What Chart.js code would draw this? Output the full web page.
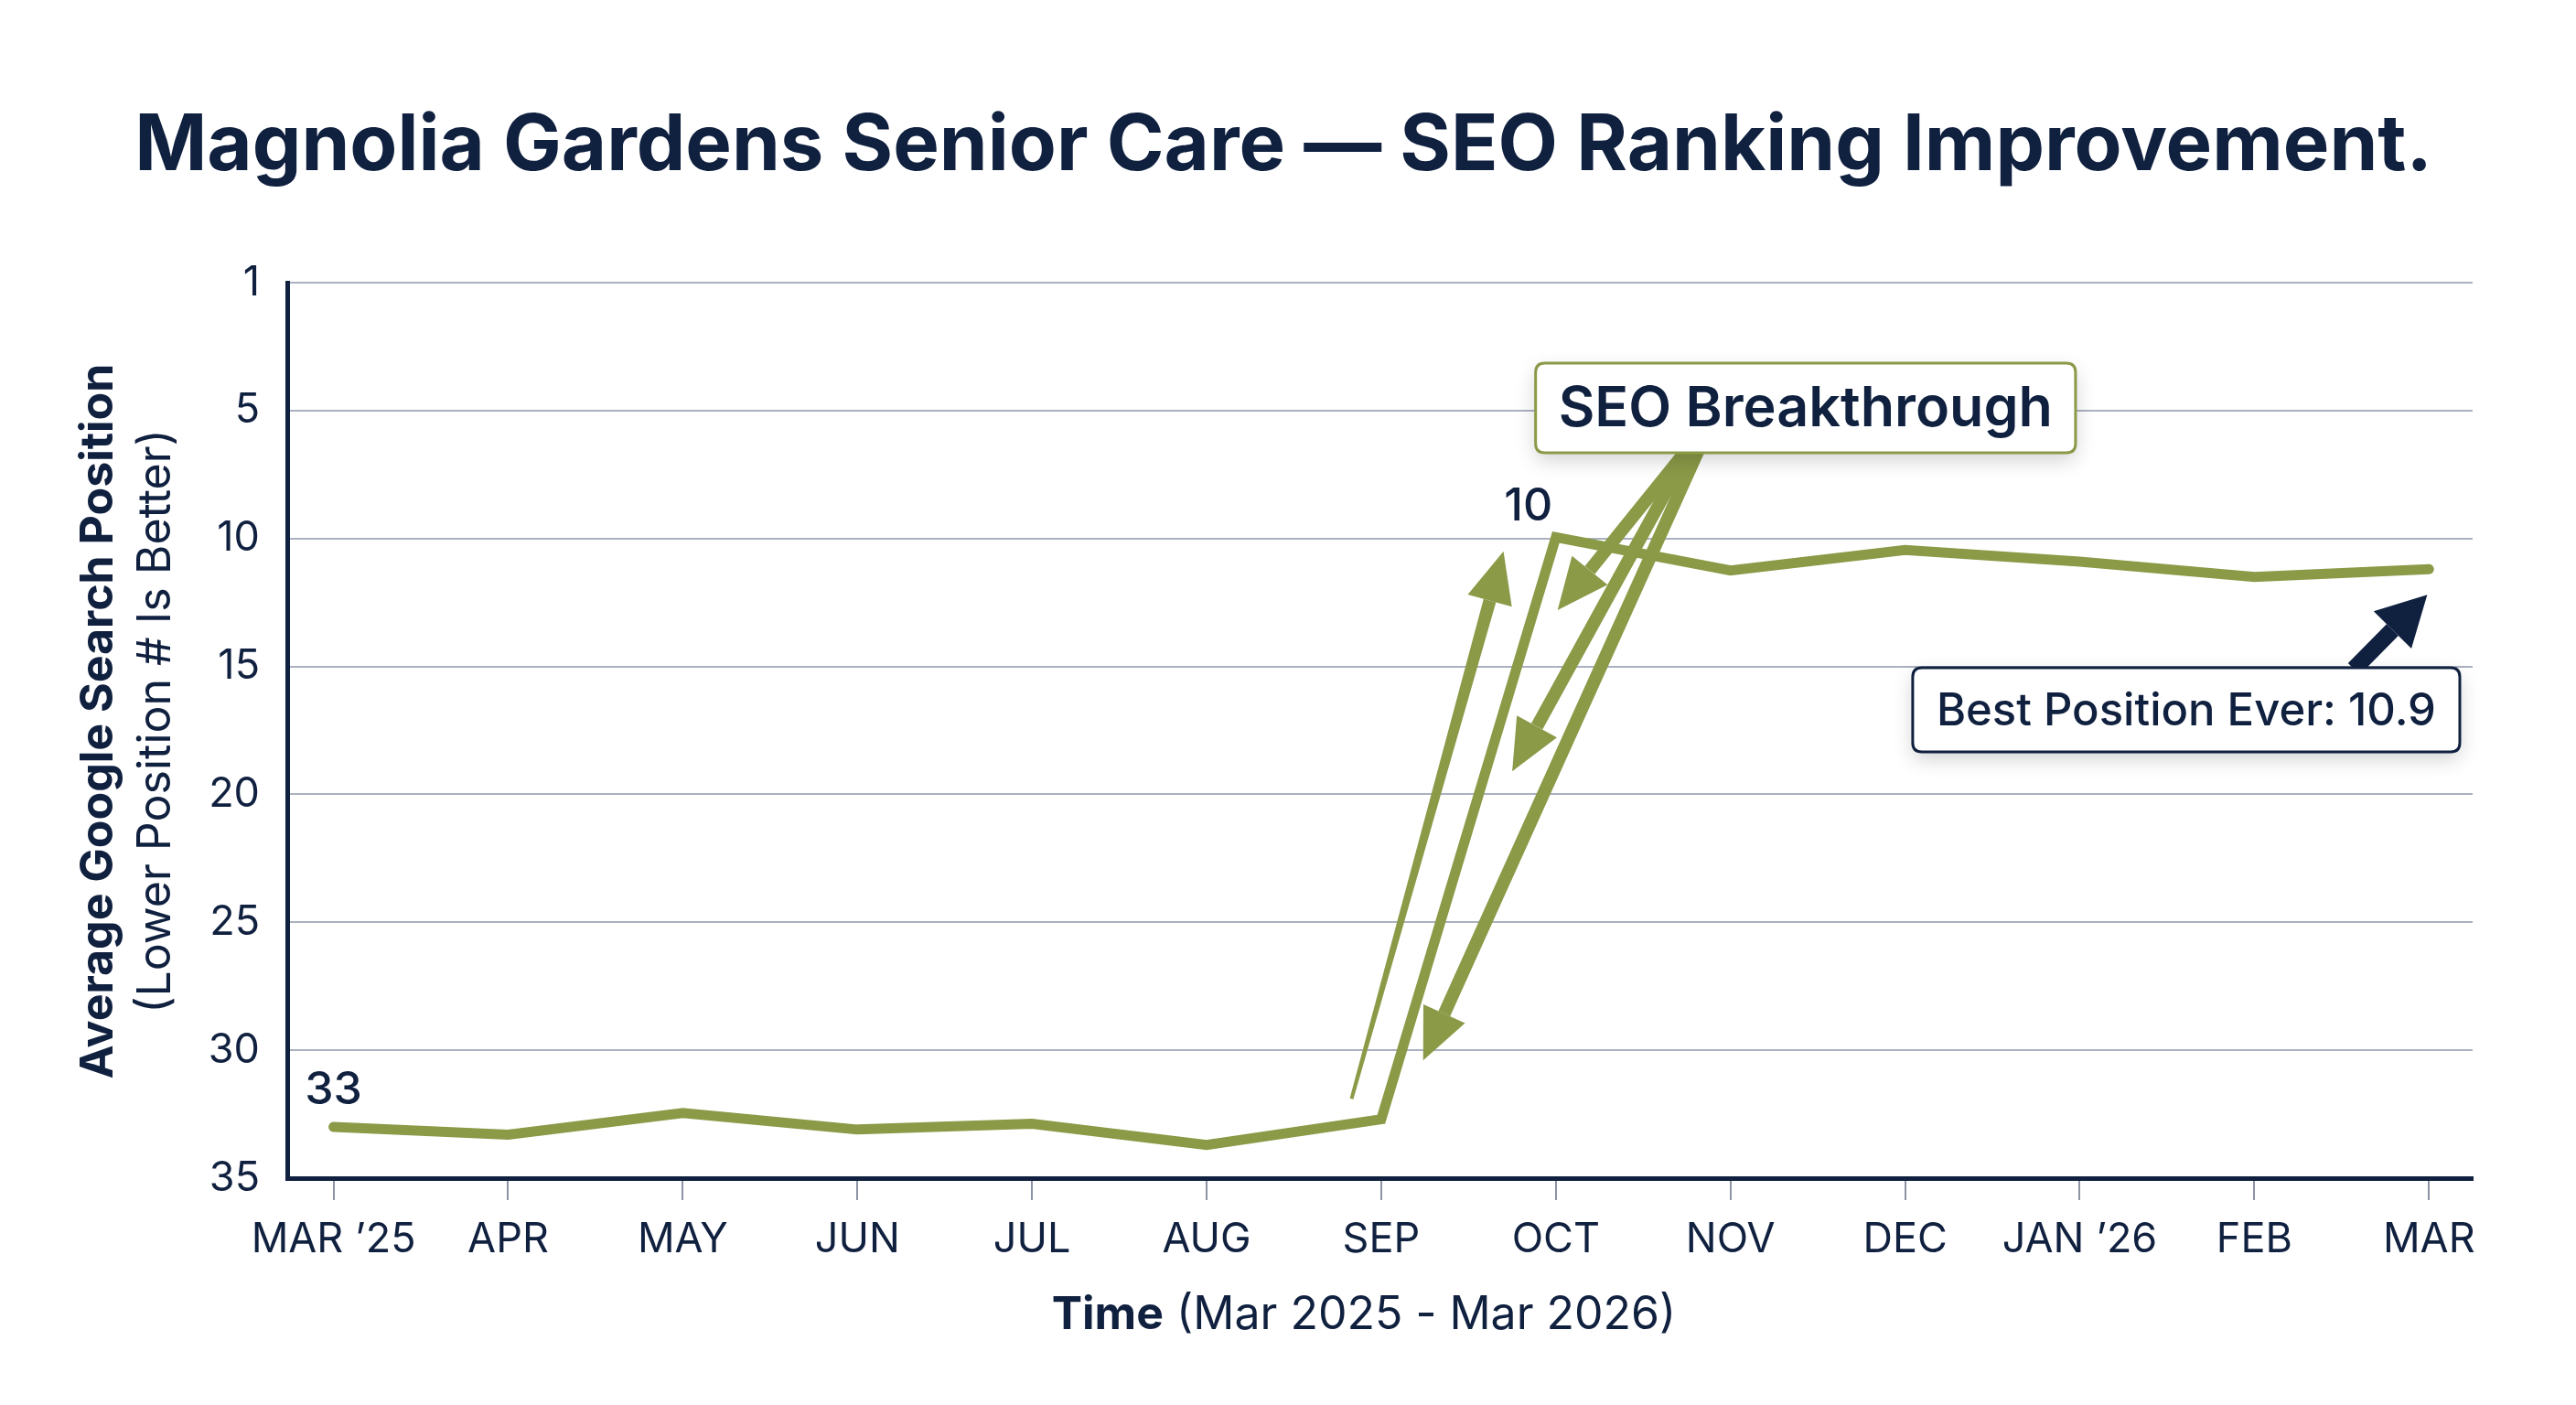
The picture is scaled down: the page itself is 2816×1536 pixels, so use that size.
<!DOCTYPE html>
<html>
<head>
<meta charset="utf-8">
<title>SEO Ranking Improvement</title>
<script src="https://cdn.jsdelivr.net/npm/chart.js@4.4.1/dist/chart.umd.min.js"></script>
<style>
  html, body { margin: 0; padding: 0; background: #ffffff; }
  #wrap { width: 2816px; height: 1536px; position: relative; }
</style>
</head>
<body>
<div id="wrap"><canvas id="seoChart"></canvas></div>
<script>
// Datos del grafico
const months = ["MAR \u201925", "APR", "MAY", "JUN", "JUL", "AUG", "SEP", "OCT", "NOV", "DEC", "JAN \u201926", "FEB", "MAR"];
const positions = [33.0, 33.3, 32.45, 33.1, 32.87, 33.7, 32.7, 9.95, 11.25, 10.45, 10.9, 11.5, 11.2];
const yTickValues = [0, 5, 10, 15, 20, 25, 30, 35];
const yTickLabels = ["1", "5", "10", "15", "20", "25", "30", "35"];

const titleText = "Magnolia Gardens Senior Care \u2014 SEO Ranking Improvement.";
const yTitleBold = "Average Google Search Position";
const yTitleNormal = "(Lower Position # Is Better)";
const xTitleBold = "Time";
const xTitleNormal = " (Mar 2025 - Mar 2026)";
const seoLabel = "SEO Breakthrough";
const bestLabel = "Best Position Ever: 10.9";

const NAVY = "#10203f";
const OLIVE = "#8a9a47";
const GRID = "#aab1c0";
const FONT = "Inter, 'Noto Sans', sans-serif";

// Anotaciones en unidades de datos (indice de mes, posicion)
const seoBox = { x: 8.43, y: 4.9 };
const bestBox = { x: 10.61, y: 16.7 };
const oliveArrows = [
  { from: [5.83, 31.9], to: [6.70, 10.5], w1: 4, w2: 14 },
  { from: [7.79, 6.2], to: [7.01, 12.8], w1: 14, w2: 14 },
  { from: [7.79, 6.2], to: [6.75, 19.1], w1: 14, w2: 14 },
  { from: [7.84, 6.2], to: [6.24, 30.4], w1: 14, w2: 14 },
];
const navyArrow = { from: [11.57, 15.1], to: [11.99, 12.2] };

// Dibuja una flecha con cuerpo (posiblemente conico) y punta triangular
function drawArrow(ctx, x1, y1, x2, y2, w1, w2, headLen, headW, color) {
  const dx = x2 - x1, dy = y2 - y1;
  const len = Math.sqrt(dx * dx + dy * dy);
  const ux = dx / len, uy = dy / len;
  const px = -uy, py = ux;
  const bx = x2 - ux * headLen, by = y2 - uy * headLen;
  ctx.save();
  ctx.fillStyle = color;
  ctx.beginPath();
  ctx.moveTo(x1 + px * w1 / 2, y1 + py * w1 / 2);
  ctx.lineTo(bx + px * w2 / 2, by + py * w2 / 2);
  ctx.lineTo(bx - px * w2 / 2, by - py * w2 / 2);
  ctx.lineTo(x1 - px * w1 / 2, y1 - py * w1 / 2);
  ctx.closePath();
  ctx.fill();
  ctx.beginPath();
  ctx.moveTo(x2, y2);
  ctx.lineTo(bx + px * headW / 2, by + py * headW / 2);
  ctx.lineTo(bx - px * headW / 2, by - py * headW / 2);
  ctx.closePath();
  ctx.fill();
  ctx.restore();
}

function roundRect(ctx, x, y, w, h, r) {
  ctx.beginPath();
  ctx.moveTo(x + r, y);
  ctx.lineTo(x + w - r, y);
  ctx.quadraticCurveTo(x + w, y, x + w, y + r);
  ctx.lineTo(x + w, y + h - r);
  ctx.quadraticCurveTo(x + w, y + h, x + w - r, y + h);
  ctx.lineTo(x + r, y + h);
  ctx.quadraticCurveTo(x, y + h, x, y + h - r);
  ctx.lineTo(x, y + r);
  ctx.quadraticCurveTo(x, y, x + r, y);
  ctx.closePath();
}

function drawBox(ctx, cx, cy, text, font, padX, h, border) {
  ctx.save();
  ctx.font = font;
  const w = ctx.measureText(text).width + padX * 2;
  const x = cx - w / 2, y = cy - h / 2;
  ctx.shadowColor = "rgba(0, 0, 0, 0.18)";
  ctx.shadowBlur = 22;
  ctx.shadowOffsetY = 8;
  roundRect(ctx, x, y, w, h, 10);
  ctx.fillStyle = "#ffffff";
  ctx.fill();
  ctx.shadowColor = "transparent";
  ctx.lineWidth = 3;
  ctx.strokeStyle = border;
  ctx.stroke();
  ctx.fillStyle = NAVY;
  ctx.textAlign = "center";
  ctx.textBaseline = "middle";
  ctx.fillText(text, cx, cy + 2);
  ctx.restore();
}

// Plugin para titulo, titulos de ejes y anotaciones
const extrasPlugin = {
  id: "extras",
  afterDraw(chart) {
    const ctx = chart.ctx;
    const xs = chart.scales.x, ys = chart.scales.y;
    const area = chart.chartArea;
    const px = (v) => xs.getPixelForValue(v);
    const py = (v) => ys.getPixelForValue(v);

    // Titulo principal
    ctx.save();
    ctx.fillStyle = NAVY;
    ctx.textAlign = "center";
    ctx.textBaseline = "middle";
    ctx.font = "700 85px " + FONT;
    ctx.fillText(titleText, 1403, 160);
    ctx.restore();

    // Titulo eje Y (dos lineas)
    const midY = (area.top + area.bottom) / 2 - 10;
    ctx.save();
    ctx.fillStyle = NAVY;
    ctx.textAlign = "center";
    ctx.textBaseline = "middle";
    ctx.translate(108, midY);
    ctx.rotate(-Math.PI / 2);
    ctx.font = "700 50px " + FONT;
    ctx.fillText(yTitleBold, 0, 0);
    ctx.font = "400 50px " + FONT;
    ctx.fillText(yTitleNormal, 0, 63);
    ctx.restore();

    // Titulo eje X (negrita + normal)
    ctx.save();
    ctx.fillStyle = NAVY;
    ctx.textBaseline = "middle";
    ctx.font = "700 50px " + FONT;
    const wb = ctx.measureText(xTitleBold).width;
    ctx.font = "400 50px " + FONT;
    const wn = ctx.measureText(xTitleNormal).width;
    let sx = 1491 - (wb + wn) / 2;
    ctx.font = "700 50px " + FONT;
    ctx.fillText(xTitleBold, sx, 1438);
    ctx.font = "400 50px " + FONT;
    ctx.fillText(xTitleNormal, sx + wb, 1438);
    ctx.restore();

    // Flechas verdes
    oliveArrows.forEach((a) => {
      drawArrow(ctx, px(a.from[0]), py(a.from[1]), px(a.to[0]), py(a.to[1]),
        a.w1, a.w2, 56, 50, OLIVE);
    });

    // Flecha azul
    drawArrow(ctx, px(navyArrow.from[0]), py(navyArrow.from[1]),
      px(navyArrow.to[0]), py(navyArrow.to[1]), 18, 18, 54, 58, NAVY);

    // Etiquetas de valores
    const meta = chart.getDatasetMeta(0);
    ctx.save();
    ctx.fillStyle = NAVY;
    ctx.font = "500 50px " + FONT;
    ctx.textAlign = "center";
    ctx.textBaseline = "middle";
    const p0 = meta.data[0];
    ctx.fillText(String(Math.round(positions[0])), p0.x, p0.y - 40);
    const p7 = meta.data[7];
    ctx.fillText(String(Math.round(positions[7])), p7.x - 30, p7.y - 33);
    ctx.restore();

    // Cajas
    drawBox(ctx, px(seoBox.x), py(seoBox.y), seoLabel, "600 61px " + FONT, 25, 98, OLIVE);
    drawBox(ctx, px(bestBox.x), py(bestBox.y), bestLabel, "500 49px " + FONT, 26, 92, NAVY);
  },
};

const ctx = document.getElementById("seoChart");

new Chart(ctx, {
  type: "line",
  data: {
    datasets: [
      {
        label: "Average Position",
        data: positions.map((v, i) => ({ x: i, y: v })),
        borderColor: OLIVE,
        borderWidth: 11,
        pointRadius: 0,
        tension: 0,
        borderJoinStyle: "miter",
        borderCapStyle: "round",
      },
    ],
  },
  plugins: [extrasPlugin],
  options: {
    responsive: true,
    maintainAspectRatio: false,
    animation: false,
    layout: { padding: { top: 309, right: 113, bottom: 0, left: 0 } },
    plugins: {
      legend: { display: false },
      tooltip: { enabled: false },
      title: { display: false },
    },
    scales: {
      x: {
        type: "linear",
        min: -0.265,
        max: 12.25,
        afterBuildTicks: (axis) => {
          axis.ticks = months.map((m, i) => ({ value: i }));
        },
        afterFit: (scale) => { scale.height = 248; },
        ticks: {
          autoSkip: false,
          maxRotation: 0,
          padding: 16,
          color: NAVY,
          font: { family: FONT, size: 45 },
          callback: (v) => months[v],
        },
        grid: {
          drawOnChartArea: false,
          drawTicks: true,
          tickLength: 24,
          color: "#8b93a5",
          lineWidth: 2,
        },
        border: { display: true, color: NAVY, width: 5 },
      },
      y: {
        reverse: true,
        min: 0,
        max: 35,
        afterBuildTicks: (axis) => {
          axis.ticks = yTickValues.map((v) => ({ value: v }));
        },
        afterFit: (scale) => { scale.width = 314; },
        ticks: {
          padding: 30,
          color: NAVY,
          font: { family: FONT, size: 45 },
          callback: (v) => yTickLabels[yTickValues.indexOf(v)],
        },
        grid: {
          color: GRID,
          lineWidth: 2,
          drawTicks: false,
        },
        border: { display: true, color: NAVY, width: 5 },
      },
    },
  },
});
</script>
</body>
</html>
